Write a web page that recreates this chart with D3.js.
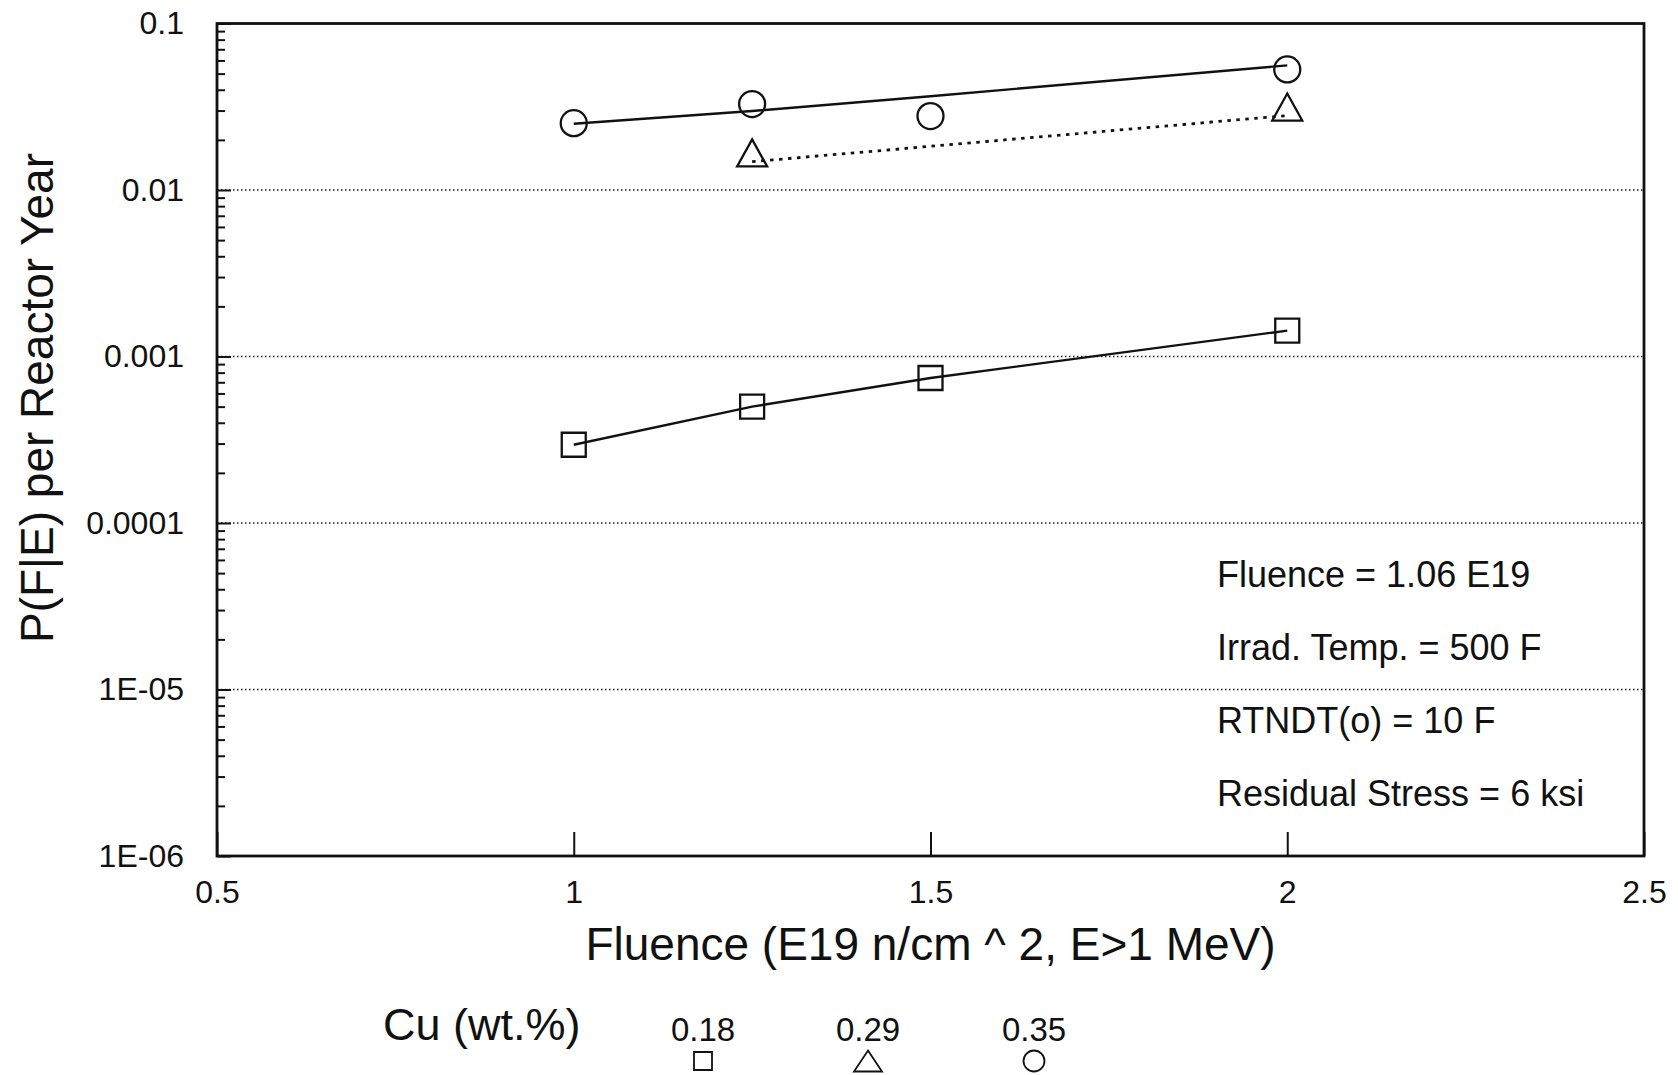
<!DOCTYPE html>
<html>
<head>
<meta charset="utf-8">
<script src="https://cdn.jsdelivr.net/npm/d3@7"></script>
<style>
  html, body { margin: 0; padding: 0; background: #fff; }
  svg { display: block; font-family: "Liberation Sans", Arial, Helvetica, sans-serif; }
  .axis text { font-size: 32px; fill: #111; }
  .axis .domain { display: none; }
  .axis line { stroke: #111; stroke-width: 2; }
</style>
</head>
<body>
<div id="chart"></div>
<script>
// fluence values (E19 n/cm^2)
const fluence = [1, 1.25, 1.5, 2];
const fluence029 = [1.25, 2];

// P(F|E) per reactor year
const cu018Points = [2.95e-4, 5.0e-4, 7.43e-4, 1.43e-3];
const cu029Points = [0.0167, 0.0315];
const cu029Fit = [0.0148, 0.0280];
const cu035Points = [0.0252, 0.0328, 0.0278, 0.0530];
const cu035Fit = [0.0250, 0.0298, 0.0366, 0.0560];

const cuLevels = ["0.18", "0.29", "0.35"];

const xTicks = [0.5, 1, 1.5, 2, 2.5];
const yTicks = [1e-6, 1e-5, 1e-4, 1e-3, 1e-2, 1e-1];
const yTickLabels = ["1E-06", "1E-05", "0.0001", "0.001", "0.01", "0.1"];

const notes = [
    "Fluence = 1.06 E19",
    "Irrad. Temp. = 500 F",
    "RTNDT(o) = 10 F",
    "Residual Stress = 6 ksi"
];

function renderChart(selector) {
    const W = 1678, H = 1075;
    const margin = {top: 23.5, right: 34, bottom: 219, left: 217};
    const width = W - margin.left - margin.right;
    const height = H - margin.top - margin.bottom;

    const svg = d3.select(selector).append("svg")
        .attr("width", W)
        .attr("height", H);

    svg.append("rect").attr("width", W).attr("height", H).attr("fill", "#fff");

    const g = svg.append("g")
        .attr("transform", `translate(${margin.left}, ${margin.top})`);

    const x = d3.scaleLinear().domain([0.5, 2.5]).range([0, width]);
    const y = d3.scaleLog().domain([1e-6, 0.1]).range([height, 0]);

    // dotted grid at inner decades
    g.append("g")
        .selectAll("line")
        .data(yTicks.slice(1, -1))
        .enter()
        .append("line")
        .attr("x1", 0)
        .attr("x2", width)
        .attr("y1", d => y(d))
        .attr("y2", d => y(d))
        .attr("stroke", "#222")
        .attr("stroke-width", 1.6)
        .attr("stroke-dasharray", "1.5,2.5");

    // minor ticks on y
    const minor = [];
    yTicks.slice(0, -1).forEach(d => {
        for (let k = 2; k <= 9; k++) minor.push(d * k);
    });
    g.append("g")
        .attr("class", "axis")
        .call(d3.axisLeft(y).tickValues(minor).tickSizeInner(-8).tickSizeOuter(0).tickFormat(""));

    g.append("g")
        .attr("class", "axis axis-y")
        .call(d3.axisLeft(y).tickValues(yTicks).tickSizeInner(-14).tickSizeOuter(0).tickPadding(33)
            .tickFormat((d, i) => yTickLabels[i]));

    g.append("g")
        .attr("class", "axis axis-x")
        .attr("transform", `translate(0, ${height})`)
        .call(d3.axisBottom(x).tickValues(xTicks).tickSizeInner(-24).tickSizeOuter(0).tickPadding(24)
            .tickFormat(d3.format("")));

    // frame
    g.append("rect")
        .attr("width", width)
        .attr("height", height)
        .attr("fill", "none")
        .attr("stroke", "#111")
        .attr("stroke-width", 2.8);

    const line = d3.line()
        .x(d => x(d[0]))
        .y(d => y(d[1]));

    // lines
    g.append("path")
        .datum(d3.zip(fluence, cu018Points))
        .attr("d", line)
        .attr("fill", "none")
        .attr("stroke", "#111")
        .attr("stroke-width", 2.4);

    g.append("path")
        .datum(d3.zip(fluence, cu035Fit))
        .attr("d", line)
        .attr("fill", "none")
        .attr("stroke", "#111")
        .attr("stroke-width", 2.4);

    g.append("path")
        .datum(d3.zip(fluence029, cu029Fit))
        .attr("d", line)
        .attr("fill", "none")
        .attr("stroke", "#111")
        .attr("stroke-width", 2.8)
        .attr("stroke-dasharray", "3.5,5.5");

    // marker shapes
    const squarePath = s => `M${-s / 2},${-s / 2}h${s}v${s}h${-s}Z`;
    const trianglePath = (w, h) => `M0,${-h / 2}L${w / 2},${h / 2}L${-w / 2},${h / 2}Z`;
    const circlePath = r => `M${r},0A${r},${r} 0 1,1 ${-r},0A${r},${r} 0 1,1 ${r},0Z`;

    function drawMarkers(data, pathStr) {
        g.append("g")
            .selectAll("path")
            .data(data)
            .enter()
            .append("path")
            .attr("transform", d => `translate(${x(d[0])}, ${y(d[1])})`)
            .attr("d", pathStr)
            .attr("fill", "none")
            .attr("stroke", "#111")
            .attr("stroke-width", 2.3);
    }

    drawMarkers(d3.zip(fluence, cu018Points), squarePath(24));
    drawMarkers(d3.zip(fluence029, cu029Points), trianglePath(30, 27));
    drawMarkers(d3.zip(fluence, cu035Points), circlePath(13));

    // annotation block
    g.append("g")
        .selectAll("text")
        .data(notes)
        .enter()
        .append("text")
        .attr("x", 1217 - margin.left)
        .attr("y", (d, i) => 587 + i * 73 - margin.top)
        .attr("font-size", 36)
        .attr("fill", "#111")
        .text(d => d);

    // axis titles
    svg.append("text")
        .attr("x", margin.left + width / 2)
        .attr("y", 960)
        .attr("text-anchor", "middle")
        .attr("font-size", 46)
        .attr("fill", "#111")
        .text("Fluence (E19 n/cm ^ 2, E>1 MeV)");

    svg.append("text")
        .attr("transform", "translate(53, 398) rotate(-90)")
        .attr("text-anchor", "middle")
        .attr("font-size", 46)
        .attr("fill", "#111")
        .text("P(F|E) per Reactor Year");

    // legend
    svg.append("text")
        .attr("x", 383)
        .attr("y", 1040)
        .attr("font-size", 45)
        .attr("fill", "#111")
        .text("Cu (wt.%)");

    const legendX = [703, 868, 1034];
    const legendShapes = [squarePath(18), trianglePath(28, 21), circlePath(10.5)];
    const lg = svg.append("g")
        .selectAll("g")
        .data(cuLevels)
        .enter()
        .append("g")
        .attr("transform", (d, i) => `translate(${legendX[i]}, 0)`);

    lg.append("text")
        .attr("y", 1041)
        .attr("text-anchor", "middle")
        .attr("font-size", 33)
        .attr("fill", "#111")
        .text(d => d);

    lg.append("path")
        .attr("transform", "translate(0, 1061)")
        .attr("d", (d, i) => legendShapes[i])
        .attr("fill", "none")
        .attr("stroke", "#111")
        .attr("stroke-width", 1.8);
}

renderChart("#chart");
</script>
</body>
</html>
